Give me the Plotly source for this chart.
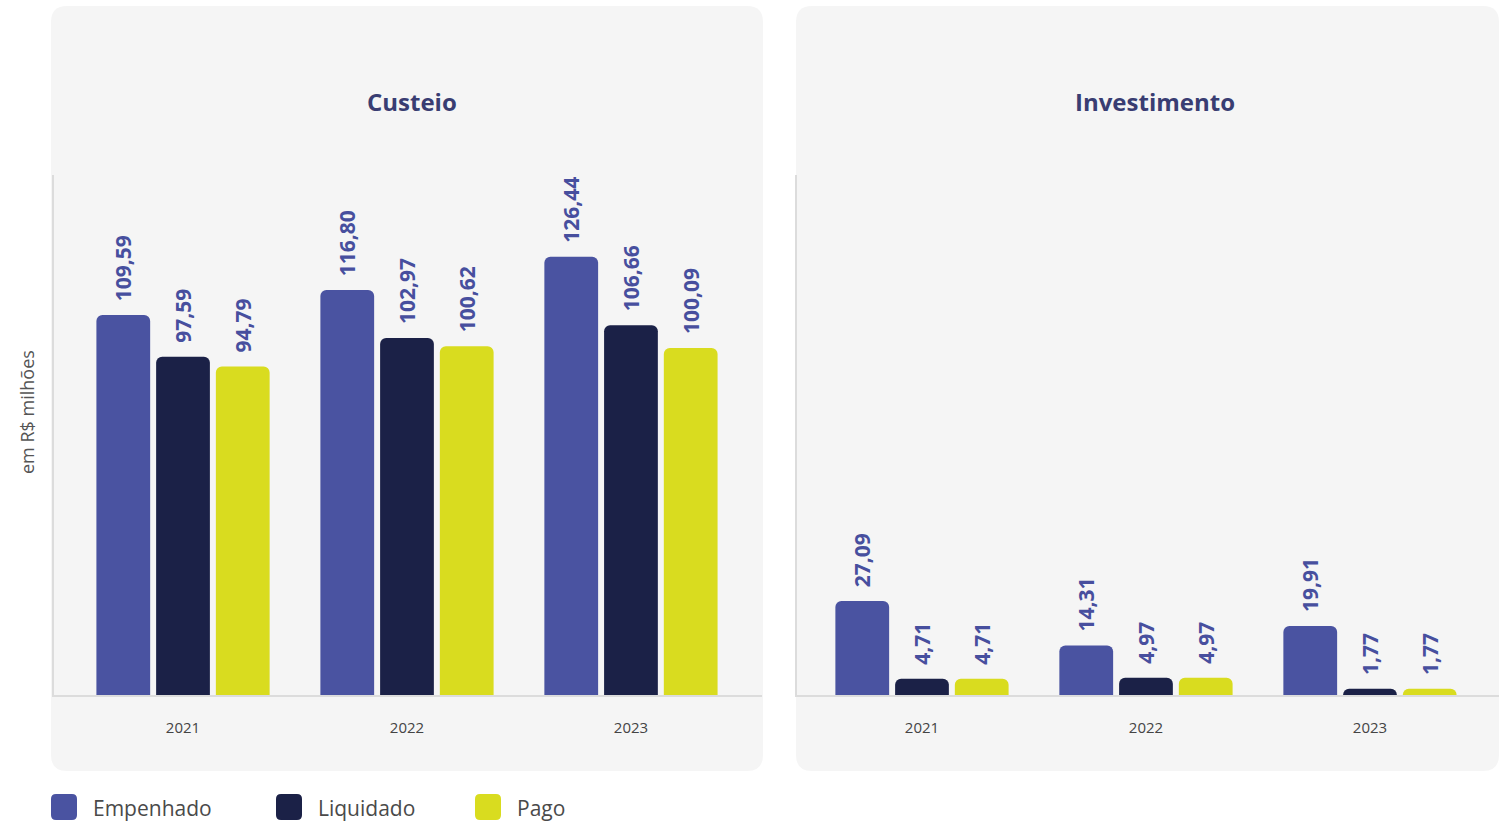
import plotly.graph_objects as go

W, H = 1499, 822

years = ["2021", "2022", "2023"]
series_names = ["Empenhado", "Liquidado", "Pago"]
colors = ["#4a53a1", "#1b2147", "#d9dc1f"]

custeio_empenhado = [109.59, 116.80, 126.44]
custeio_liquidado = [97.59, 102.97, 106.66]
custeio_pago = [94.79, 100.62, 100.09]

invest_empenhado = [27.09, 14.31, 19.91]
invest_liquidado = [4.71, 4.97, 1.77]
invest_pago = [4.71, 4.97, 1.77]

custeio = [custeio_empenhado, custeio_liquidado, custeio_pago]
investimento = [invest_empenhado, invest_liquidado, invest_pago]

FONT = "Open Sans"


def px(x):
    return x / W


def py(y):
    return 1 - y / H


def rounded_rect(x0, y0, x1, y1, r):
    # path in paper coords from pixel box
    pts = [
        f"M {px(x0 + r)} {py(y0)}",
        f"L {px(x1 - r)} {py(y0)}",
        f"Q {px(x1)} {py(y0)} {px(x1)} {py(y0 + r)}",
        f"L {px(x1)} {py(y1 - r)}",
        f"Q {px(x1)} {py(y1)} {px(x1 - r)} {py(y1)}",
        f"L {px(x0 + r)} {py(y1)}",
        f"Q {px(x0)} {py(y1)} {px(x0)} {py(y1 - r)}",
        f"L {px(x0)} {py(y0 + r)}",
        f"Q {px(x0)} {py(y0)} {px(x0 + r)} {py(y0)}",
        "Z",
    ]
    return " ".join(pts)


def fmt(v):
    # leading nbsp keeps a gap between bar top and rotated label
    return "\u00a0\u00a0<b>" + f"{v:.2f}".replace(".", ",") + "</b>"


fig = go.Figure()

for data, xa, ya in [(custeio, "x", "y"), (investimento, "x2", "y2")]:
    for name, vals, col in zip(series_names, data, colors):
        fig.add_trace(
            go.Bar(
                x=years,
                y=vals,
                name=name,
                marker_color=col,
                marker_line_width=0,
                marker_cornerradius=6,
                text=[fmt(v) for v in vals],
                textposition="outside",
                textangle=-90,
                constraintext="none",
                textfont={"family": FONT, "size": 21, "color": "#474f9e"},
                cliponaxis=False,
                showlegend=False,
                xaxis=xa,
                yaxis=ya,
            )
        )

axis_line = "#dcdcdc"
common_x = {
    "showline": True,
    "linecolor": axis_line,
    "linewidth": 2,
    "ticks": "",
    "ticklabelstandoff": 18,
    "tickfont": {"size": 15, "color": "#444"},
    "showgrid": False,
    "zeroline": False,
}
common_y = {
    "domain": [py(695), py(175)],
    "range": [0, 150],
    "showline": True,
    "linecolor": axis_line,
    "linewidth": 2,
    "showticklabels": False,
    "ticks": "",
    "showgrid": False,
    "zeroline": False,
}

fig.update_layout(
    width=W,
    height=H,
    margin={"l": 0, "r": 0, "t": 0, "b": 0},
    paper_bgcolor="white",
    plot_bgcolor="rgba(0,0,0,0)",
    barmode="group",
    bargap=0.2,
    bargroupgap=0.1,
    font={"family": FONT, "color": "#444"},
    xaxis={**common_x, "domain": [px(54), px(762)], "range": [-0.576, 2.585], "anchor": "y"},
    yaxis={**common_y, "anchor": "x"},
    xaxis2={**common_x, "domain": [px(797), 1], "range": [-0.558, 2.576], "anchor": "y2"},
    yaxis2={**common_y, "anchor": "x2"},
)

# panel backgrounds
shapes = [
    {"type": "path", "xref": "paper", "yref": "paper", "path": rounded_rect(51, 6, 763, 771, 16),
     "fillcolor": "#f5f5f5", "line": {"width": 0}, "layer": "below"},
    {"type": "path", "xref": "paper", "yref": "paper", "path": rounded_rect(796, 6, 1499, 771, 16),
     "fillcolor": "#f5f5f5", "line": {"width": 0}, "layer": "below"},
]

annotations = [
    {"text": "<b>Custeio</b>", "x": px(412), "y": py(102), "font": {"size": 24, "color": "#393d72"}},
    {"text": "<b>Investimento</b>", "x": px(1155), "y": py(102), "font": {"size": 24, "color": "#393d72"}},
    {"text": "em R$ milhões", "x": px(27), "y": py(412), "textangle": -90, "font": {"size": 18, "color": "#555"}},
]

# custom legend with large rounded squares
legend_x = [51, 276, 475]
for name, col, lx in zip(series_names, colors, legend_x):
    shapes.append({"type": "path", "xref": "paper", "yref": "paper",
                   "path": rounded_rect(lx, 794, lx + 26, 820, 5),
                   "fillcolor": col, "line": {"width": 0}})
    annotations.append({"text": name, "x": px(lx + 40), "y": py(808), "xanchor": "left",
                        "font": {"size": 21, "color": "#4a4a4a"}})

for a in annotations:
    a.setdefault("xref", "paper")
    a.setdefault("yref", "paper")
    a.setdefault("xanchor", "center")
    a.setdefault("yanchor", "middle")
    a.setdefault("showarrow", False)

fig.update_layout(shapes=shapes, annotations=annotations)

fig.write_html(
    "out.html",
    config={"displayModeBar": False},
    post_script="document.body.style.margin='0';",
)
